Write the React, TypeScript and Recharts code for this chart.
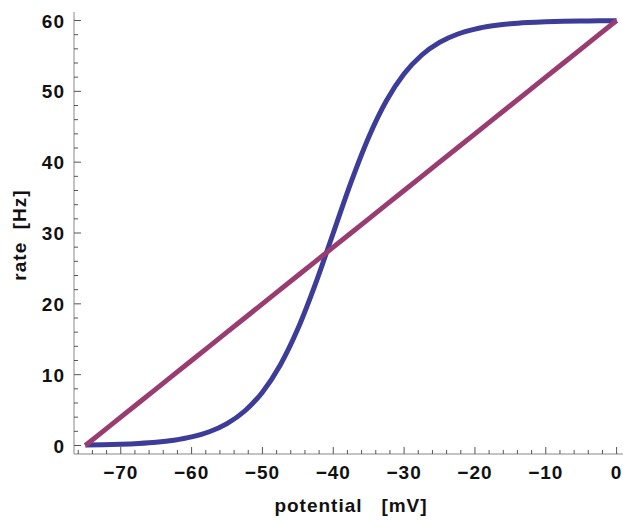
import React from 'react';
import { LineChart, Line, XAxis, YAxis } from 'recharts';

const potential = [-75, -72.5, -70, -67.5, -65, -62.5, -60, -57.5, -55, -52.5, -50, -47.5, -45, -42.5, -40, -37.5, -35, -32.5, -30, -27.5, -25, -22.5, -20, -17.5, -15, -12.5, -10, -7.5, -5, -2.5, 0];
const sigmoidRate = [0.07, 0.11, 0.18, 0.29, 0.46, 0.75, 1.21, 1.94, 3.09, 4.87, 7.53, 11.34, 16.48, 22.86, 30.0, 37.14, 43.52, 48.66, 52.47, 55.13, 56.91, 58.06, 58.79, 59.25, 59.54, 59.71, 59.82, 59.89, 59.93, 59.96, 59.98];
const linearRate = [0, 2, 4, 6, 8, 10, 12, 14, 16, 18, 20, 22, 24, 26, 28, 30, 32, 34, 36, 38, 40, 42, 44, 46, 48, 50, 52, 54, 56, 58, 60];

const xTicks = [-76, -74, -72, -70, -68, -66, -64, -62, -60, -58, -56, -54, -52, -50, -48, -46, -44, -42, -40, -38, -36, -34, -32, -30, -28, -26, -24, -22, -20, -18, -16, -14, -12, -10, -8, -6, -4, -2, 0];
const yTicks = [0, 2, 4, 6, 8, 10, 12, 14, 16, 18, 20, 22, 24, 26, 28, 30, 32, 34, 36, 38, 40, 42, 44, 46, 48, 50, 52, 54, 56, 58, 60];
const majorStep = 10;

const xTitle = 'potential\u00a0\u00a0\u00a0[mV]';
const yTitle = 'rate\u00a0\u00a0[Hz]';

const data = potential.map((p, i) => ({ p, s: sigmoidRate[i], l: linearRate[i] }));

const FONT = '"Liberation Sans", Arial, Helvetica, sans-serif';
const TICK_COLOR = '#555';
const AXIS_COLOR = '#888';

const fmt = (v: number) => (v < 0 ? '\u2212' + Math.abs(v) : String(v));

const XTick = (props: any) => {
  const { x, y, payload } = props;
  const v = payload.value;
  const major = v % majorStep === 0;
  return (
    <g>
      <line x1={x} y1={y} x2={x} y2={y - (major ? 7 : 4)} stroke={TICK_COLOR} strokeWidth={1} />
      {major && (
        <text x={x} y={y + 25} textAnchor="middle" fontFamily={FONT} fontWeight="bold" fontSize={19} fill="#111" letterSpacing={1}>
          {fmt(v)}
        </text>
      )}
    </g>
  );
};

const YTick = (props: any) => {
  const { x, y, payload } = props;
  const v = payload.value;
  const major = v % majorStep === 0;
  return (
    <g>
      <line x1={x} y1={y} x2={x + (major ? 7 : 4)} y2={y} stroke={TICK_COLOR} strokeWidth={1} />
      {major && (
        <text x={x - 9} y={y + 7} textAnchor="end" fontFamily={FONT} fontWeight="bold" fontSize={19} fill="#111" letterSpacing={1}>
          {fmt(v)}
        </text>
      )}
    </g>
  );
};

export default function App() {
  return (
    <div style={{ position: 'absolute', left: 0, top: 0, width: 623, height: 520, background: '#fff' }}>
      <LineChart width={623} height={520} data={data} margin={{ top: 12, right: 0, bottom: 0, left: 0 }}>
        <XAxis
          type="number"
          dataKey="p"
          domain={[-76.6, 0.9]}
          allowDataOverflow
          ticks={xTicks}
          interval={0}
          tickSize={0}
          tickMargin={0}
          tickLine={false}
          tick={<XTick />}
          axisLine={{ stroke: AXIS_COLOR, strokeWidth: 1 }}
          height={66}
        />
        <YAxis
          type="number"
          domain={[-1.2, 61.2]}
          allowDataOverflow
          ticks={yTicks}
          interval={0}
          tickSize={0}
          tickMargin={0}
          tickLine={false}
          tick={<YTick />}
          axisLine={{ stroke: AXIS_COLOR, strokeWidth: 1 }}
          width={74}
        />
        <Line type="monotone" dataKey="s" stroke="#3d3d99" strokeWidth={5} dot={false} isAnimationActive={false} />
        <Line type="linear" dataKey="l" stroke="#993d71" strokeWidth={5} dot={false} isAnimationActive={false} />
      </LineChart>
      <svg width={623} height={520} style={{ position: 'absolute', left: 0, top: 0, pointerEvents: 'none' }}>
        <text x={351} y={512} textAnchor="middle" fontFamily={FONT} fontWeight="bold" fontSize={19} fill="#111" letterSpacing={1}>
          {xTitle}
        </text>
        <text x={26} y={235} textAnchor="middle" fontFamily={FONT} fontWeight="bold" fontSize={19} fill="#111" letterSpacing={1} transform="rotate(-90 26 235)">
          {yTitle}
        </text>
      </svg>
    </div>
  );
}
